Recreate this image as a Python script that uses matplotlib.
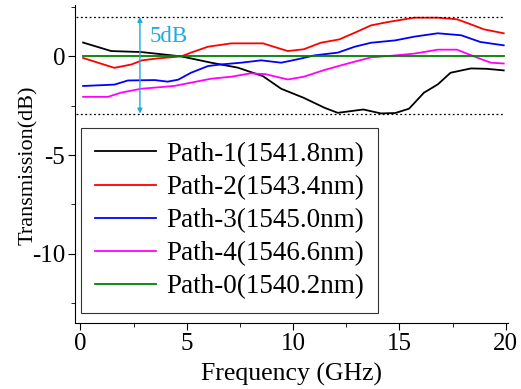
import matplotlib
matplotlib.use("Agg")
import matplotlib.pyplot as plt
from matplotlib.ticker import MultipleLocator

plt.rcParams['font.family'] = ['Liberation Serif', 'DejaVu Serif']
plt.rcParams['axes.unicode_minus'] = False

x1 = [0.13, 1.45, 2.86, 4.74, 6.15, 7.4, 8.58, 9.44, 10.5, 11.47, 12.1, 13.3, 14.13, 14.8, 15.45, 16.15, 16.8, 17.4, 18.36, 19.1, 19.9]
y1 = [0.7, 0.27, 0.22, 0.0, -0.32, -0.57, -1.0, -1.64, -2.1, -2.6, -2.86, -2.69, -2.89, -2.87, -2.65, -1.84, -1.42, -0.83, -0.61, -0.63, -0.71]

x2 = [0.13, 0.83, 1.6, 2.4, 2.9, 3.65, 4.74, 5.2, 6.0, 7.1, 8.58, 9.75, 10.5, 11.3, 12.17, 12.9, 13.66, 14.45, 15.7, 16.8, 17.7, 18.36, 18.97, 19.9]
y2 = [-0.08, -0.32, -0.58, -0.41, -0.2, -0.1, 0.0, 0.19, 0.49, 0.66, 0.66, 0.27, 0.36, 0.69, 0.86, 1.2, 1.57, 1.74, 1.96, 1.96, 1.88, 1.62, 1.37, 1.17]

x3 = [0.13, 1.6, 2.24, 3.5, 4.1, 4.6, 5.2, 6.0, 6.6, 7.56, 8.5, 9.44, 10.2, 11.0, 12.1, 12.9, 13.66, 14.8, 15.7, 16.8, 17.9, 18.8, 19.9]
y3 = [-1.5, -1.43, -1.22, -1.2, -1.28, -1.18, -0.83, -0.49, -0.41, -0.32, -0.2, -0.32, -0.15, 0.05, 0.19, 0.49, 0.69, 0.81, 1.0, 1.17, 1.07, 0.73, 0.56]

x4 = [0.13, 1.3, 1.9, 2.86, 4.4, 5.35, 6.15, 7.1, 8.0, 8.7, 9.75, 10.5, 11.47, 12.57, 13.66, 14.6, 15.7, 16.8, 17.7, 18.67, 19.3, 19.9]
y4 = [-2.05, -2.05, -1.84, -1.64, -1.5, -1.3, -1.13, -1.03, -0.86, -0.9, -1.17, -1.03, -0.69, -0.36, -0.05, 0.03, 0.14, 0.34, 0.34, -0.07, -0.32, -0.36]

x0 = [0.13, 19.9]
y0 = [0.0, 0.0]

labels = ['Path-1(1541.8nm)', 'Path-2(1543.4nm)', 'Path-3(1545.0nm)',
          'Path-4(1546.6nm)', 'Path-0(1540.2nm)']
colors = ['black', 'red', 'blue', 'magenta', 'green']

ref_top = 2.0
ref_bottom = -2.9
arrow_x = 2.8

fig = plt.figure(figsize=(5.21, 3.89), dpi=100)
ax = fig.add_axes([0.144, 0.170, 0.831, 0.817])

for xs, ys, lab, c in zip([x1, x2, x3, x4, x0], [y1, y2, y3, y4, y0], labels, colors):
    ax.plot(xs, ys, color=c, lw=1.3, label=lab)

ax.plot([-0.2, 19.9], [ref_top, ref_top], color='black', lw=0.9, ls=(0, (1.5, 2)))
ax.plot([-0.2, 19.9], [ref_bottom, ref_bottom], color='black', lw=0.9, ls=(0, (1.5, 2)))
ax.annotate('', xy=(arrow_x, ref_top), xytext=(arrow_x, ref_bottom),
            arrowprops=dict(arrowstyle='<|-|>', color='#1ea9e1', lw=1.0,
                            mutation_scale=7, shrinkA=0, shrinkB=0))
ax.text(3.25, 1.0, '5dB', color='#1ea9e1', fontsize=16.5, va='center', ha='left')

ax.set_xlim(-0.25, 20.1)
ax.set_ylim(-13.5, 2.6)
ax.xaxis.set_major_locator(MultipleLocator(5))
ax.xaxis.set_minor_locator(MultipleLocator(2.5))
ax.yaxis.set_major_locator(MultipleLocator(5))
ax.yaxis.set_minor_locator(MultipleLocator(2.5))
ax.tick_params(which='major', direction='out', length=5, labelsize=18, pad=2)
ax.tick_params(which='minor', direction='out', length=3)
for s in ['top', 'right']:
    ax.spines[s].set_visible(False)

ax.set_xlabel('Frequency (GHz)', fontsize=18.5, labelpad=6)
ax.set_ylabel('Transmission(dB)', fontsize=16)
ax.yaxis.set_label_coords(-0.085, 0.497)

leg = ax.legend(loc='lower left', bbox_to_anchor=(0.014, 0.031), fontsize=19.5,
                frameon=True, fancybox=False, edgecolor='black', handlelength=2.25,
                handletextpad=0.4, labelspacing=0.3, borderpad=0.5, borderaxespad=0)
leg.get_frame().set_linewidth(0.8)

fig.savefig('out.png', dpi=100)
